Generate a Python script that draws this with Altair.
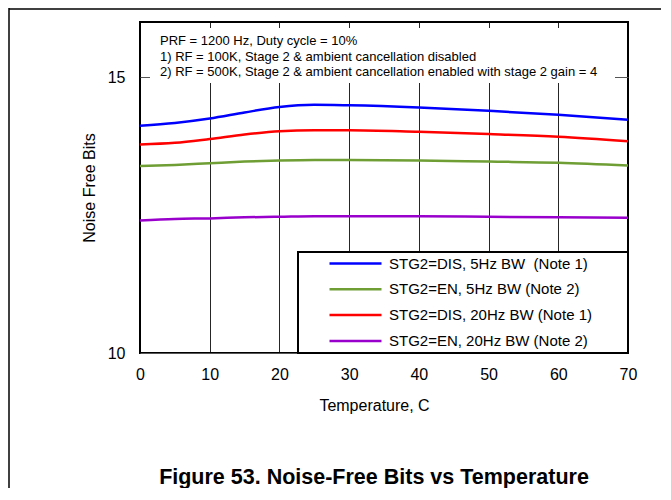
import altair as alt
import pandas as pd

# ---- data ----
temps = [0, 5, 10, 15, 20, 25, 30, 40, 50, 60, 70]
s_dis_5 = [14.12, 14.17, 14.25, 14.36, 14.46, 14.50, 14.49, 14.45, 14.39, 14.32, 14.23]
s_en_5 = [13.39, 13.41, 13.44, 13.47, 13.49, 13.50, 13.50, 13.49, 13.47, 13.45, 13.40]
s_dis_20 = [13.78, 13.81, 13.88, 13.96, 14.02, 14.04, 14.04, 14.01, 13.97, 13.92, 13.84]
s_en_20 = [12.40, 12.43, 12.44, 12.46, 12.47, 12.48, 12.48, 12.48, 12.47, 12.46, 12.45]

names = [
    "STG2=DIS, 5Hz BW\u00a0 (Note 1)",
    "STG2=EN, 5Hz BW (Note 2)",
    "STG2=DIS, 20Hz BW (Note 1)",
    "STG2=EN, 20Hz BW (Note 2)",
]
colors = ["#0000FF", "#6E9E34", "#FF0000", "#9900CC"]
series_values = [s_dis_5, s_en_5, s_dis_20, s_en_20]

x_ticks = [0, 10, 20, 30, 40, 50, 60, 70]
y_ticks = [10, 15]

note_lines = [
    "PRF = 1200 Hz, Duty cycle = 10%",
    "1) RF = 100K, Stage 2 & ambient cancellation disabled",
    "2) RF = 500K, Stage 2 & ambient cancellation enabled with stage 2 gain = 4",
]
fig_title = "Figure 53. Noise-Free Bits vs Temperature"

rows = []
for n, vals in zip(names, series_values):
    for t, v in zip(temps, vals):
        rows.append({"series": n, "temp": t, "value": v})
df = pd.DataFrame(rows)

W, H = 488, 331
FONT = "Liberation Sans"

one = pd.DataFrame({"k": [0]})

x_enc = alt.X(
    "temp:Q",
    scale=alt.Scale(domain=[0, 70], nice=False, zero=False),
    axis=alt.Axis(
        values=x_ticks, title="Temperature, C", grid=True, gridColor="#000000",
        gridWidth=1, gridOpacity=0.85, ticks=False, domain=False, labelPadding=13,
        labelFlush=False, labelFontSize=16, titleFontSize=16,
        titleFontWeight="normal", titlePadding=15, titleX=234,
        labelColor="#000", titleColor="#000",
    ),
)
y_enc = alt.Y(
    "value:Q",
    scale=alt.Scale(domain=[10, 16], nice=False, zero=False),
    axis=alt.Axis(
        values=y_ticks, title="Noise Free Bits", grid=True, gridColor="#555555",
        gridWidth=1, ticks=False, domain=False, labelPadding=15,
        labelFlush=False, labelFontSize=16, titleFontSize=16,
        titleFontWeight="normal", titlePadding=10, labelColor="#000",
        titleColor="#000",
    ),
)

# white box behind the notes text (hides grid)
note_box = alt.Chart(one).mark_rect(fill="white", stroke=None).encode(
    x=alt.value(10), x2=alt.value(475), y=alt.value(6), y2=alt.value(61)
)
notes = alt.Chart(one).mark_text(
    text=note_lines, align="left", baseline="top", fontSize=13, lineHeight=15.5,
    font=FONT, color="#000",
).encode(x=alt.value(20), y=alt.value(13))

# legend frame
legend_box = alt.Chart(one).mark_rect(fill="white", stroke="black", strokeWidth=2).encode(
    x=alt.value(158), x2=alt.value(W), y=alt.value(230), y2=alt.value(H)
)

lines = alt.Chart(df).mark_line(strokeWidth=2.5, interpolate="monotone").encode(
    x=x_enc,
    y=y_enc,
    color=alt.Color(
        "series:N",
        scale=alt.Scale(domain=names, range=colors),
        sort=names,
        legend=alt.Legend(
            orient="none", legendX=208, legendY=234, title=None,
            symbolType="M-5.2,0H5.2", symbolSize=100, symbolStrokeWidth=2.5,
            labelFontSize=15, labelFont=FONT, labelColor="#000",
            labelOffset=26, rowPadding=9.8, padding=0, labelLimit=400,
        ),
    ),
)

# figure caption
caption = alt.Chart(one).mark_text(
    text=fig_title, align="center", baseline="middle", fontSize=21.5,
    fontWeight="bold", font=FONT, color="#000",
).encode(x=alt.value(234), y=alt.value(456))

# outer page frame
frame_left = alt.Chart(one).mark_rule(color="black", strokeWidth=1.5).encode(
    x=alt.value(-131), y=alt.value(-14), y2=alt.value(H + 200)
)
frame_top = alt.Chart(one).mark_rule(color="black", strokeWidth=1.5).encode(
    x=alt.value(-131), x2=alt.value(W + 40), y=alt.value(-13)
)

chart = alt.layer(
    note_box, legend_box, lines, notes, caption, frame_left, frame_top
).properties(
    width=W, height=H,
    autosize=alt.AutoSizeParams(type="none"),
    padding={"left": 132, "top": 14, "right": 33, "bottom": 135},
).configure(font=FONT).configure_view(stroke="black", strokeWidth=2)

chart.save("out.html", embed_options={"renderer": "svg", "actions": False})
